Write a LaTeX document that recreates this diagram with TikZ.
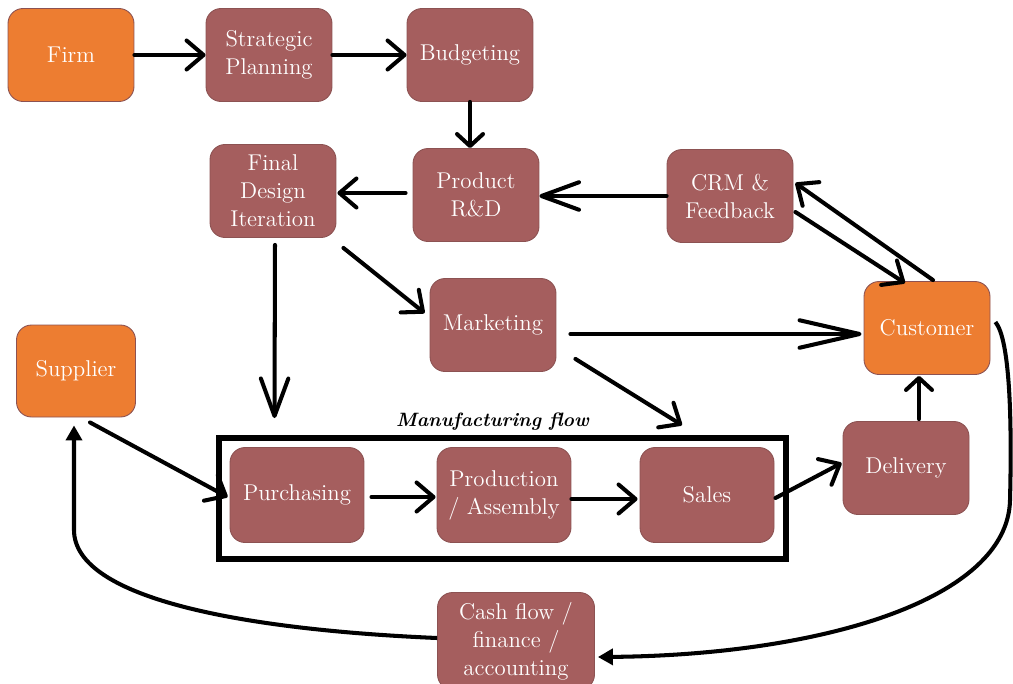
\documentclass[tikz,border=0pt]{standalone}
\usepackage{tikz}
\usepackage{xcolor}
\usetikzlibrary{arrows.meta,positioning,calc}
\definecolor{firmorange}{RGB}{237,125,49}
\definecolor{stepred}{RGB}{165,94,94}
\definecolor{boxedge}{RGB}{140,82,82}

\begin{document}
\begin{tikzpicture}[x=0.02cm, y=-0.02cm,
    box/.style={draw=boxedge, line width=0.5pt, rounded corners=0.3cm, fill=stepred, text=white,
      minimum width=2.52cm, minimum height=1.86cm, align=center, inner sep=2pt,
      font=\fontsize{13}{16}\selectfont},
    hub/.style={box, fill=firmorange},
    flowbox/.style={box, minimum width=2.68cm, minimum height=1.9cm},
    link/.style={line width=2.3pt, line cap=round, -{Straight Barb[round, length=0.34cm, width=0.58cm]}},
    shortlink/.style={link, -{Straight Barb[round, length=0.24cm, width=0.52cm]}},
    longlink/.style={link, -{Straight Barb[round, length=0.75cm, width=0.55cm]}},
    widelink/.style={link, -{Straight Barb[round, length=1.2cm, width=0.55cm]}},
    money/.style={line width=2.3pt, -{Triangle[length=0.3cm, width=0.32cm]}}]
  \useasboundingbox (0,0) rectangle (1013,683);

  % top row
  \node[hub] (firm) at (71,55) {Firm};
  \node[box] (plan) at (269,55) {Strategic\\Planning};
  \node[box] (budget) at (470,55) {Budgeting};

  % second row
  \node[box] (design) at (273,191) {Final\\Design\\Iteration};
  \node[box] (rnd) at (476,195) {Product\\R\&D};
  \node[box] (crm) at (730,196) {CRM \&\\Feedback};

  \node[box] (mkt) at (493,325) {Marketing};
  \node[hub] (cust) at (927,328) {Customer};
  \node[hub, minimum width=2.38cm, minimum height=1.84cm] (supp) at (76,371) {Supplier};

  % manufacturing flow
  \node[draw, line width=3.4pt, minimum width=11.34cm, minimum height=2.42cm] (mfg) at (502.5,498.5) {};
  \node[anchor=south, inner sep=1pt, font=\fontsize{11}{13}\selectfont\bfseries\itshape] (mfgtitle) at ($(mfg.north)+(-10,-3)$) {Manufacturing flow};
  \node[flowbox] (purch) at (297,495) {Purchasing};
  \node[flowbox] (prod) at (504,495) {Production\\/ Assembly};
  \node[flowbox] (sales) at (707,495) {Sales};

  \node[box] (deliv) at (906,468) {Delivery};
  \node[box, minimum width=3.14cm, minimum height=1.94cm] (cash) at (516,641) {Cash flow /\\finance /\\accounting};

  % connectors
  \draw[link] (firm) -- (plan);
  \draw[link] (plan) -- (budget);
  \draw[shortlink] (budget.south) -- (budget.south |- rnd.north);
  \draw[longlink] (crm.west) -- (crm.west -| rnd.east);
  \draw[link, shorten <=4pt] ($(rnd.west)+(0,-2)$) -- ($(design.east)+(1,2)$);
  \draw[longlink, shorten <=0.14cm] ($(design.south)+(2,0)$) -- ($(mfg.north)+(-228,-17)$);
  \draw[link] ($(design.south east)+(7,10)$) -- ($(mkt.west)+(-5,-12)$);
  \draw[widelink] ($(mkt.east)+(14,9)$) -- ($(cust.west)+(-2,6)$);
  \draw[link] ($(mkt.south east)+(19,-13)$) -- ($(sales.north)+(-25,-22)$);
  \draw[link] ($(crm.east)+(2,16)$) -- ($(cust.north)+(-22,2)$);
  \draw[link] ($(cust.north)+(6,-1)$) -- ($(crm.east)+(2,-13)$);
  \draw[link] ($(supp.south)+(14,5)$) -- ($(purch.west)+(-2,2)$);
  \draw[link, shorten <=4pt] ($(purch.east)+(0,2)$) -- ($(prod.west)+(-1,2)$);
  \draw[link] ($(prod.east)+(0,4)$) -- ($(sales.west)+(-2,4)$);
  \draw[link] ($(sales.east)+(1,3)$) -- ($(deliv.west)+(-1,-5)$);
  \draw[shortlink] ($(deliv.north)+(13,-2)$) -- ($(cust.south)+(-8,1)$);

  % cash loop
  \draw[money] ($(cust.east)+(5,-6)$) .. controls (1010,340) and (1012,420) .. (1010,500)
    .. controls (1008,600) and (820,655) .. ($(cash.east)+(3,16)$);
  \draw[money] ($(cash.west)+(0,-3)$) .. controls (250,630) and (74,600) .. (74,530)
    -- ($(supp.south)+(-2,8)$);
\end{tikzpicture}
\end{document}
